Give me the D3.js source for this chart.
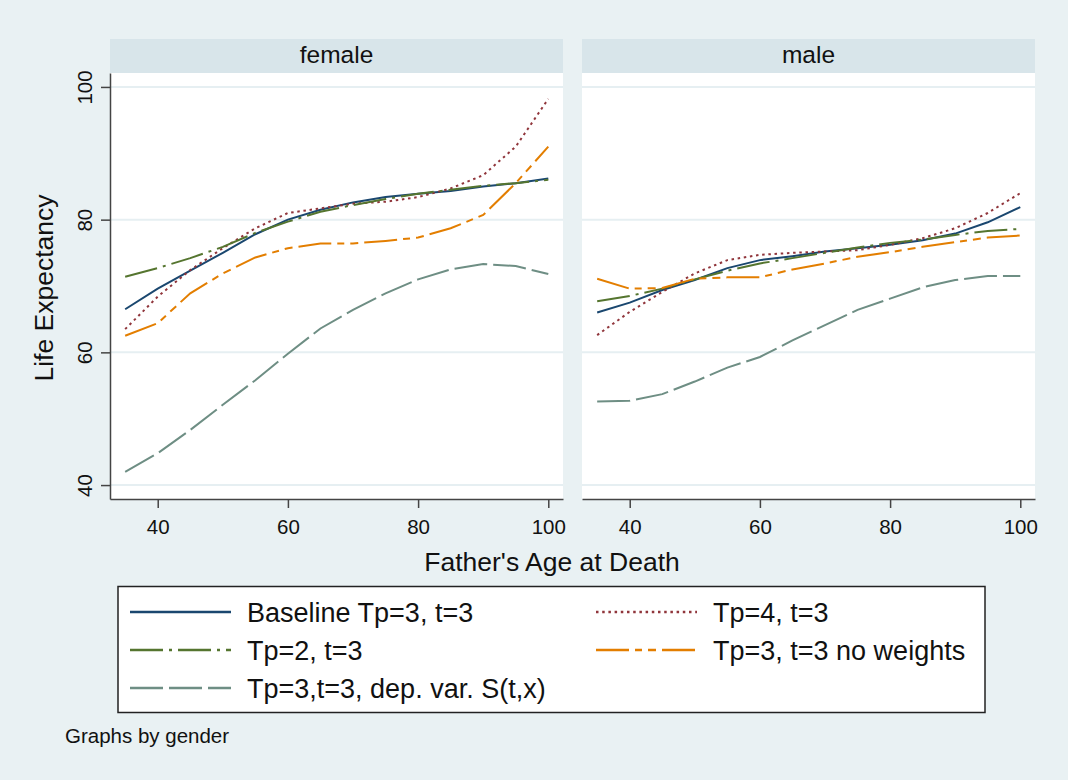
<!DOCTYPE html>
<html>
<head>
<meta charset="utf-8">
<script src="https://cdn.jsdelivr.net/npm/d3@7"></script>
<style>
  body { margin: 0; background: #e9f1f3; }
  svg { display: block; font-family: "Liberation Sans", Arial, sans-serif; }
</style>
</head>
<body>
<svg id="chart" width="1068" height="780"></svg>
<script>
// x values: father's age at death
var ages = [35, 40, 45, 50, 55, 60, 65, 70, 75, 80, 85, 90, 95, 100];
var panels = ["female", "male"];
var seriesNames = ["Baseline Tp=3, t=3", "Tp=4, t=3", "Tp=2, t=3", "Tp=3, t=3 no weights", "Tp=3,t=3, dep. var. S(t,x)"];
var xTicks = [40, 60, 80, 100];
var yTicks = [40, 60, 80, 100];

// female
var femaleBaseline = [66.5, 69.6, 72.3, 75.0, 77.8, 80.0, 81.5, 82.6, 83.4, 83.9, 84.3, 85.0, 85.5, 86.2];
var femaleTp4      = [63.5, 68.4, 72.4, 75.7, 78.7, 81.0, 81.7, 82.4, 82.7, 83.4, 84.7, 86.7, 91.0, 98.2];
var femaleTp2      = [71.4, 72.7, 74.2, 75.9, 78.0, 79.7, 81.2, 82.2, 83.1, 83.9, 84.5, 85.1, 85.5, 86.0];
var femaleNoWt     = [62.5, 64.4, 68.9, 71.9, 74.3, 75.7, 76.4, 76.4, 76.8, 77.3, 78.7, 80.7, 85.5, 91.0];
var femaleStx      = [42.0, 44.8, 48.3, 52.1, 55.8, 59.8, 63.6, 66.4, 68.9, 71.0, 72.5, 73.3, 73.0, 71.8];

// male
var maleBaseline = [66.0, 67.5, 69.4, 70.9, 72.7, 73.9, 74.5, 75.2, 75.7, 76.2, 76.9, 77.9, 79.6, 81.9];
var maleTp4      = [62.6, 66.1, 69.1, 71.9, 73.9, 74.7, 75.0, 75.2, 75.4, 76.2, 77.2, 78.7, 81.0, 84.0];
var maleTp2      = [67.7, 68.5, 69.6, 71.0, 72.3, 73.4, 74.2, 75.0, 75.8, 76.5, 77.0, 77.7, 78.3, 78.6];
var maleNoWt     = [71.1, 69.6, 69.7, 71.1, 71.3, 71.3, 72.5, 73.4, 74.4, 75.1, 75.9, 76.6, 77.3, 77.6];
var maleStx      = [52.6, 52.7, 53.7, 55.6, 57.7, 59.3, 61.8, 64.1, 66.4, 68.1, 69.8, 70.9, 71.5, 71.5];

var panelData = {
    female: [femaleBaseline, femaleTp4, femaleTp2, femaleNoWt, femaleStx],
    male: [maleBaseline, maleTp4, maleTp2, maleNoWt, maleStx]
};

// Stata s2color pens
var colors = ["#1a476f", "#90353b", "#55752f", "#e37e00", "#6e8e84"];
var dashes = [null, "2.5,3.7", "33,6,3,6", "33,6,7,6,8,6", "33,6"];

var svg = d3.select("#chart");
var font = "Liberation Sans, Arial, sans-serif";

svg.append("rect").attr("width", 1068).attr("height", 780).attr("fill", "#e9f1f3");

var panelLeft = [110, 582];
var panelWidth = 453;
var plotTop = 73, plotBottom = 499;

var y = d3.scaleLinear().domain([37.9, 102.1]).range([plotBottom, plotTop]);

panels.forEach((p, pi) => {
    var left = panelLeft[pi];
    var x = d3.scaleLinear().domain([32.67, 102.26]).range([left, left + panelWidth]);

    // header strip
    svg.append("rect")
        .attr("x", left).attr("y", 39)
        .attr("width", panelWidth).attr("height", plotTop - 39)
        .attr("fill", "#d8e5ea");
    svg.append("text")
        .attr("x", left + panelWidth / 2).attr("y", 63)
        .attr("text-anchor", "middle")
        .attr("font-size", 24.5)
        .attr("fill", "#111")
        .text(p);

    // plot region
    svg.append("rect")
        .attr("x", left).attr("y", plotTop)
        .attr("width", panelWidth).attr("height", plotBottom - plotTop)
        .attr("fill", "white");

    // gridlines
    svg.append("g").selectAll("line")
        .data(yTicks)
        .join("line")
        .attr("x1", left).attr("x2", left + panelWidth)
        .attr("y1", d => y(d)).attr("y2", d => y(d))
        .attr("stroke", "#e6eff2")
        .attr("stroke-width", 2);

    // series
    var line = d3.line()
        .x((d, i) => x(ages[i]))
        .y(d => y(d));

    panelData[p].forEach((vals, si) => {
        svg.append("path")
            .datum(vals)
            .attr("d", line)
            .attr("fill", "none")
            .attr("stroke", colors[si])
            .attr("stroke-width", 2)
            .attr("stroke-dasharray", dashes[si]);
    });

    // x axis
    var xAxis = svg.append("g")
        .attr("transform", "translate(0," + plotBottom + ")")
        .call(d3.axisBottom(x).tickValues(xTicks).tickSize(9).tickSizeOuter(0));
    xAxis.select(".domain").attr("stroke", "#444").attr("stroke-width", 1.5);
    xAxis.selectAll(".tick line").attr("stroke", "#444").attr("stroke-width", 1.5);
    xAxis.selectAll("text")
        .attr("y", 35).attr("dy", 0)
        .attr("font-size", 20.5)
        .attr("font-family", font)
        .attr("fill", "#111");

    if (pi === 0) {
        var yAxis = svg.append("g")
            .attr("transform", "translate(" + left + ",0)")
            .call(d3.axisLeft(y).tickValues(yTicks).tickSize(9).tickSizeOuter(0));
        yAxis.select(".domain").attr("stroke", "#444").attr("stroke-width", 1.5);
        yAxis.selectAll(".tick line").attr("stroke", "#444").attr("stroke-width", 1.5);
        yAxis.selectAll("text")
            .attr("x", 0).attr("dy", 0)
            .attr("transform", "translate(-18.5,0) rotate(-90)")
            .attr("text-anchor", "middle")
            .attr("font-size", 20.5)
            .attr("font-family", font)
            .attr("fill", "#111");
    }
});

// axis titles
svg.append("text")
    .attr("transform", "translate(53,288) rotate(-90)")
    .attr("text-anchor", "middle")
    .attr("font-size", 26.5)
    .attr("fill", "#111")
    .text("Life Expectancy");

svg.append("text")
    .attr("x", 552).attr("y", 571)
    .attr("text-anchor", "middle")
    .attr("font-size", 26.5)
    .attr("fill", "#111")
    .text("Father's Age at Death");

// legend
var legend = svg.append("g");
legend.append("rect")
    .attr("x", 118).attr("y", 586.5)
    .attr("width", 867).attr("height", 126)
    .attr("fill", "white")
    .attr("stroke", "#222")
    .attr("stroke-width", 1.5);

var legendPos = [[0, 0], [1, 0], [0, 1], [1, 1], [0, 2]];
var colX = [130, 596];
var rowY = [612, 650, 688];

seriesNames.forEach((name, si) => {
    var cx = colX[legendPos[si][0]];
    var cy = rowY[legendPos[si][1]];
    legend.append("line")
        .attr("x1", cx).attr("x2", cx + 101)
        .attr("y1", cy).attr("y2", cy)
        .attr("stroke", colors[si])
        .attr("stroke-width", 2.5)
        .attr("stroke-dasharray", dashes[si]);
    legend.append("text")
        .attr("x", cx + 117).attr("y", cy + 9.5)
        .attr("font-size", 27)
        .attr("fill", "#111")
        .text(name);
});

svg.append("text")
    .attr("x", 65).attr("y", 743)
    .attr("font-size", 20.5)
    .attr("fill", "#111")
    .text("Graphs by gender");
</script>
</body>
</html>
